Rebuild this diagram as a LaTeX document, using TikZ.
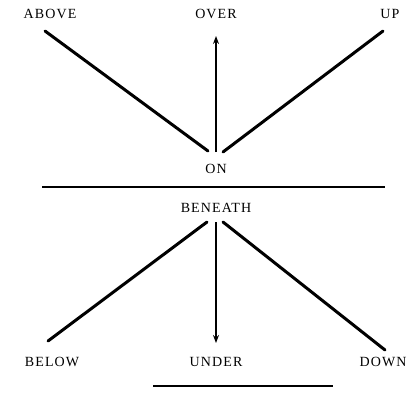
\documentclass[tikz,border=0pt]{standalone}
\usepackage{fontspec}
\setmainfont{Liberation Serif}[LetterSpace=8]
\usetikzlibrary{arrows.meta}
\begin{document}
\begin{tikzpicture}[x=1pt,y=-1pt,
  word/.style={font=\fontsize{14}{16}\selectfont, inner sep=0pt, anchor=center},
  ray/.style={line width=3pt, line cap=round},
  arr/.style={line width=2.2pt, -{Stealth[length=8pt,width=6pt]}},
  rule/.style={line width=2.6pt}]
\useasboundingbox (0,0) rectangle (415,410);
% labels
\node[word] (above) at (50,14) {ABOVE};
\node[word] (over) at (216,14) {OVER};
\node[word] (up) at (390,14) {UP};
\node[word] (on) at (216,169) {ON};
\node[word] (beneath) at (216,208) {BENEATH};
\node[word] (below) at (52,362) {BELOW};
\node[word] (under) at (216,362) {UNDER};
\node[word] (down) at (383,362) {DOWN};
% end points
\coordinate (aboveEnd) at (45,31);
\coordinate (onL) at (208,151);
\coordinate (onM) at (216,152);
\coordinate (overEnd) at (216,36);
\coordinate (upEnd) at (383,31);
\coordinate (onR) at (223,152);
\coordinate (benL) at (207,222);
\coordinate (benM) at (216,222);
\coordinate (benR) at (223,222);
\coordinate (belowEnd) at (48,341);
\coordinate (underEnd) at (216,343);
\coordinate (downEnd) at (385,350);
\coordinate (ruleL) at (42,187);
\coordinate (ruleR) at (385,187);
\coordinate (baseL) at (153,386);
\coordinate (baseR) at (333,386);
% connectors
\draw[ray] (aboveEnd) -- (onL);
\draw[ray] (upEnd) -- (onR);
\draw[arr] (onM) -- (overEnd);
\draw[rule] (ruleL) -- (ruleR);
\draw[ray] (benL) -- (belowEnd);
\draw[ray] (benR) -- (downEnd);
\draw[arr] (benM) -- (underEnd);
\draw[rule] (baseL) -- (baseR);
\end{tikzpicture}
\end{document}
